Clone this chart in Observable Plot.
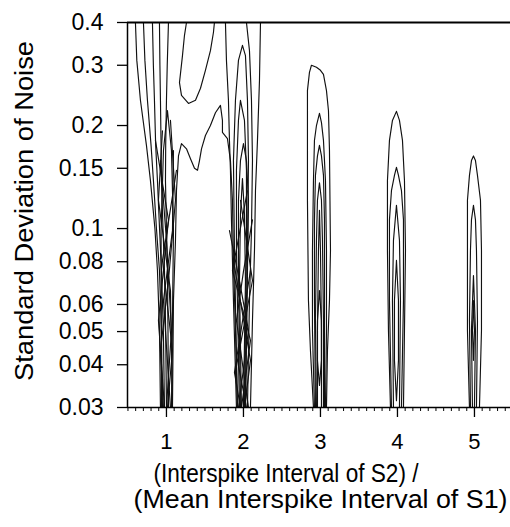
<!DOCTYPE html>
<html><head><meta charset="utf-8">
<script src="https://cdn.jsdelivr.net/npm/d3@7"></script>
<script src="https://cdn.jsdelivr.net/npm/@observablehq/plot@0.6"></script>
<style>html,body{margin:0;padding:0;background:#fff;} svg{display:block}</style>
</head><body><div id="chart"></div>
<script>
// ---- axes / ticks ----
const xTicks = [1, 2, 3, 4, 5];
const xTickLabels = ["1", "2", "3", "4", "5"];
const yTicks = [0.03, 0.04, 0.05, 0.06, 0.08, 0.1, 0.15, 0.2, 0.3, 0.4];
const yTickLabels = ["0.03", "0.04", "0.05", "0.06", "0.08", "0.1", "0.15", "0.2", "0.3", "0.4"];
const xMinorTicks = d3.range(5, 55).map(i => i / 10);
const xDomain = [0.494, 5.468];
const yDomain = [0.03, 0.4];
const yTitle = "Standard Deviation of Noise";
const xTitle1 = "(Interspike Interval of S2) /";
const xTitle2 = "(Mean Interspike Interval of S1)";

// ---- contour lines, [ratio, sigma] ----
// peak at ratio 1
const L1 = [[0.597,0.4],[0.615,0.31],[0.662,0.237],[0.74,0.175],[0.792,0.138],[0.85,0.1],[0.883,0.0754],[0.91,0.05],[0.922,0.03]];
const L2 = [[0.701,0.4],[0.72,0.31],[0.753,0.237],[0.80,0.175],[0.831,0.138],[0.87,0.1],[0.909,0.0754],[0.935,0.05],[0.948,0.03]];
const L3 = [[0.818,0.4],[0.83,0.3],[0.844,0.237],[0.86,0.175],[0.883,0.138],[0.91,0.1],[0.935,0.0754],[0.96,0.05],[0.974,0.03]];
const L4 = [[0.909,0.4],[0.915,0.3],[0.922,0.237],[0.93,0.175],[0.935,0.138],[0.955,0.1],[0.974,0.0754],[0.99,0.05],[1.0,0.03]];
const L5 = [[1.026,0.4],[1.01,0.3],[1.0,0.237],[0.99,0.175],[0.987,0.138],[1.0,0.1],[1.013,0.0754],[1.02,0.05],[1.026,0.03]];
const B1 = [[1.052,0.207],[1.117,0.121],[1.026,0.0705],[0.922,0.044],[0.961,0.03]];
const B2 = [[0.948,0.193],[0.896,0.121],[1.052,0.0659],[1.078,0.03]];
const B3 = [[1.091,0.169],[1.078,0.0987],[0.961,0.0616],[1.052,0.03]];
const B4 = [[0.922,0.158],[1.0,0.0923],[1.065,0.0504],[1.0,0.03]];
const B5 = [[0.935,0.03],[0.93,0.0987],[0.961,0.169],[1.013,0.221],[1.065,0.169],[1.091,0.0987],[1.065,0.03]];
const B10 = [[0.857,0.181],[1.026,0.106],[0.896,0.0539],[0.974,0.03]];
const B11 = [[1.130,0.148],[0.948,0.0807],[1.078,0.044],[1.013,0.03]];
// contours between ratio 1 and 2
const W1 = [[1.260,0.4],[1.234,0.367],[1.208,0.320],[1.169,0.267],[1.195,0.245],[1.286,0.232],[1.377,0.237],[1.442,0.257],[1.506,0.290],[1.571,0.331],[1.610,0.374],[1.623,0.4]];
const W2 = [[1.078,0.03],[1.091,0.0616],[1.117,0.0923],[1.130,0.129],[1.156,0.163],[1.195,0.177],[1.260,0.171],[1.312,0.160],[1.364,0.150],[1.403,0.148],[1.429,0.158],[1.455,0.171],[1.506,0.187],[1.571,0.200],[1.636,0.218],[1.701,0.229],[1.727,0.207],[1.727,0.191],[1.792,0.183],[1.831,0.158],[1.857,0.121],[1.870,0.0807],[1.896,0.0504],[1.922,0.03]];
// peak at ratio 2
const O1 = [[1.766,0.4],[1.779,0.310],[1.805,0.237],[1.818,0.181],[1.831,0.148],[1.844,0.106],[1.870,0.0616],[1.909,0.03]];
const O2 = [[2.221,0.4],[2.208,0.271],[2.182,0.181],[2.156,0.129],[2.143,0.0863],[2.117,0.0539],[2.091,0.03]];
const O3 = [[2.039,0.4],[2.078,0.331],[2.104,0.237],[2.117,0.158],[2.104,0.0987],[2.078,0.0616],[2.052,0.03]];
const U1 = [[1.922,0.03],[1.883,0.0863],[1.870,0.158],[1.896,0.237],[1.935,0.310],[1.987,0.343],[2.026,0.320],[2.052,0.237],[2.065,0.158],[2.052,0.0863],[2.026,0.03]];
const U2 = [[1.948,0.03],[1.909,0.0863],[1.909,0.148],[1.935,0.207],[1.961,0.237],[2.013,0.207],[2.039,0.148],[2.039,0.0863],[2.013,0.03]];
const U3 = [[1.961,0.03],[1.935,0.0754],[1.935,0.121],[1.961,0.158],[2.0,0.177],[2.039,0.158],[2.065,0.121],[2.052,0.0754],[2.026,0.03]];
const U4 = [[1.974,0.03],[1.948,0.07],[1.961,0.11],[1.987,0.14],[2.013,0.11],[2.026,0.07],[2.0,0.03]];
const B6 = [[1.818,0.0987],[1.95,0.07],[2.065,0.0504],[1.935,0.03]];
const B7 = [[2.117,0.106],[2.0,0.075],[1.909,0.0539],[2.065,0.03]];
const B8 = [[1.870,0.0807],[2.091,0.0412],[2.013,0.03]];
const B9 = [[2.091,0.0754],[1.883,0.038],[1.961,0.03]];
const B12 = [[1.961,0.121],[2.117,0.0705],[1.922,0.0412],[2.039,0.03]];
const B13 = [[2.052,0.129],[1.857,0.0754],[2.091,0.0471],[1.974,0.03]];
// peak at ratio 3
const C1 = [[2.909,0.03],[2.870,0.044],[2.844,0.0616],[2.831,0.121],[2.831,0.207],[2.831,0.253],[2.857,0.286],[2.883,0.300],[2.948,0.296],[3.0,0.290],[3.039,0.282],[3.078,0.253],[3.104,0.221],[3.117,0.169],[3.130,0.0863],[3.117,0.0616],[3.091,0.044],[3.078,0.03]];
const C2 = [[2.922,0.03],[2.896,0.0504],[2.896,0.0863],[2.909,0.138],[2.922,0.181],[2.948,0.200],[2.987,0.217],[3.013,0.204],[3.039,0.181],[3.065,0.138],[3.078,0.0863],[3.078,0.0504],[3.065,0.03]];
const C3 = [[2.935,0.03],[2.922,0.0616],[2.922,0.106],[2.935,0.143],[2.961,0.163],[2.987,0.175],[3.013,0.163],[3.039,0.143],[3.052,0.106],[3.052,0.0616],[3.052,0.03]];
const C4 = [[2.948,0.03],[2.935,0.0539],[2.948,0.0923],[2.961,0.121],[2.987,0.136],[3.013,0.121],[3.026,0.0923],[3.039,0.0539],[3.039,0.03]];
const C5 = [[2.961,0.03],[2.961,0.0504],[2.974,0.0863],[2.987,0.113],[3.0,0.0863],[3.013,0.0504],[3.013,0.03]];
const C6 = [[2.987,0.0659],[3.013,0.0539],[3.013,0.0412],[2.987,0.0348],[2.961,0.0412],[2.961,0.0539],[2.987,0.0659]];
// peak at ratio 4
const D1 = [[3.909,0.03],[3.883,0.0504],[3.870,0.0863],[3.870,0.138],[3.896,0.181],[3.935,0.207],[3.987,0.220],[4.026,0.207],[4.065,0.181],[4.091,0.138],[4.104,0.0863],[4.091,0.0504],[4.078,0.03]];
const D2 = [[3.922,0.03],[3.896,0.0616],[3.896,0.106],[3.922,0.129],[3.961,0.143],[3.987,0.151],[4.013,0.143],[4.052,0.129],[4.078,0.106],[4.078,0.0616],[4.052,0.03]];
const D3 = [[3.948,0.03],[3.935,0.0616],[3.948,0.0923],[3.987,0.117],[4.026,0.0923],[4.039,0.0616],[4.026,0.03]];
const D4 = [[3.987,0.0807],[4.013,0.0616],[4.013,0.0412],[3.987,0.0314],[3.961,0.0412],[3.961,0.0616],[3.987,0.0807]];
// peak at ratio 5
const E1 = [[4.935,0.03],[4.909,0.0504],[4.909,0.0863],[4.909,0.121],[4.935,0.143],[4.961,0.158],[4.987,0.163],[5.013,0.158],[5.039,0.143],[5.078,0.121],[5.091,0.0863],[5.091,0.0504],[5.065,0.03]];
const E2 = [[4.948,0.03],[4.935,0.0539],[4.948,0.0863],[4.961,0.106],[4.987,0.117],[5.013,0.106],[5.026,0.0863],[5.039,0.0539],[5.026,0.03]];
const E3 = [[4.974,0.03],[4.961,0.0504],[4.987,0.0729],[5.013,0.0504],[5.0,0.03]];
const E4 = [[4.987,0.0616],[5.0,0.0504],[4.987,0.0412],[4.974,0.0504],[4.987,0.0616]];

const lineList = [
  ["L1",L1],["L2",L2],["L3",L3],["L4",L4],["L5",L5],["B1",B1],["B2",B2],["B3",B3],["B4",B4],["B5",B5],["B10",B10],["B11",B11],
  ["W1",W1],["W2",W2],
  ["O1",O1],["O2",O2],["O3",O3],["U1",U1],["U2",U2],["U3",U3],["U4",U4],["B6",B6],["B7",B7],["B8",B8],["B9",B9],["B12",B12],["B13",B13],
  ["C1",C1],["C2",C2],["C3",C3],["C4",C4],["C5",C5],["C6",C6],
  ["D1",D1],["D2",D2],["D3",D3],["D4",D4],
  ["E1",E1],["E2",E2],["E3",E3],["E4",E4]
];
const rows = lineList.flatMap(([id, pts]) => pts.map(([x, s]) => ({id, x, s})));

const chart = Plot.plot({
  width: 510,
  height: 527,
  marginLeft: 127,
  marginRight: 0,
  marginTop: 22,
  marginBottom: 120,
  style: {fontFamily: "'Liberation Sans', Arial, Helvetica, sans-serif", background: "#fff", color: "#000"},
  x: {domain: xDomain},
  y: {type: "log", domain: yDomain},
  marks: [
    Plot.line(rows, {x: "x", y: "s", z: "id", stroke: "#111", strokeWidth: 1.15, clip: true}),
    Plot.ruleX([xDomain[0]], {stroke: "#000", strokeWidth: 1.5}),
    Plot.ruleY([yDomain[0]], {stroke: "#000", strokeWidth: 1.5}),
    Plot.ruleY([yDomain[1]], {stroke: "#000", strokeWidth: 2}),
    Plot.axisX({ticks: xMinorTicks, tickSize: 4, tickFormat: () => "", label: null, stroke: "#000"}),
    Plot.axisX({ticks: xTicks, tickSize: 10, tickPadding: 16, tickFormat: d => xTickLabels[xTicks.indexOf(d)], fontSize: 22, label: null, stroke: "#000", strokeWidth: 1.3}),
    Plot.axisY({ticks: yTicks, tickSize: 10, tickPadding: 14, tickFormat: d => yTickLabels[yTicks.indexOf(d)], fontSize: 23, label: null, stroke: "#000", strokeWidth: 1.3}),
    Plot.text([yTitle], {frameAnchor: "left", dx: -103, dy: -4, rotate: -90, textAnchor: "middle", fontSize: 25, fill: "#000"}),
    Plot.text([xTitle1], {frameAnchor: "bottom-left", dx: 26, dy: 74, textAnchor: "start", fontSize: 25, fill: "#000"}),
    Plot.text([xTitle2], {frameAnchor: "bottom-left", dx: 6, dy: 100, textAnchor: "start", fontSize: 25, fill: "#000"})
  ]
});
document.getElementById("chart").appendChild(chart);
// match the reference's text widths
const lengths = new Map([[yTitle, 340], [xTitle1, 265], [xTitle2, 374]]);
chart.querySelectorAll("text").forEach(t => {
  const L = lengths.get(t.textContent);
  if (L) { t.setAttribute("textLength", L); t.setAttribute("lengthAdjust", "spacingAndGlyphs"); }
});
</script>
</body></html>
